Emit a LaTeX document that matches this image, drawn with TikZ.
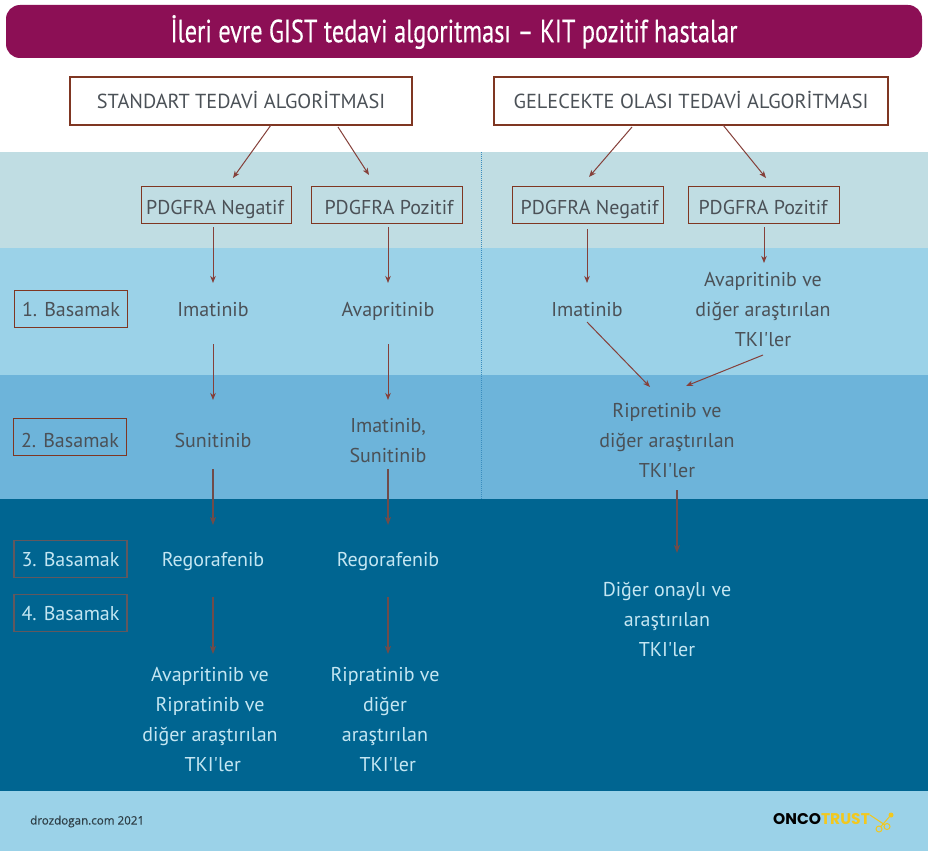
\documentclass[tikz,border=0pt]{standalone}
\usepackage{fontspec}
\setmainfont{PT Sans}
\newfontfamily\labfont{PT Sans}
\newfontfamily\titlefont{PT Sans}
\newfontfamily\footfont{Open Sans}
\newfontfamily\logofont{Poppins}
\usetikzlibrary{arrows.meta}
\definecolor{titlebg}{HTML}{8C0F55}
\definecolor{frame}{HTML}{7F3622}
\definecolor{framedark}{HTML}{62585E}
\definecolor{arrowc}{HTML}{85403A}
\definecolor{arrowd}{HTML}{704C4A}
\definecolor{band0}{HTML}{C0DDE3}
\definecolor{band1}{HTML}{9BD2E8}
\definecolor{band2}{HTML}{6DB4DA}
\definecolor{band3}{HTML}{006591}
\definecolor{txt}{HTML}{4B5157}
\definecolor{txtlight}{HTML}{C4E6F2}
\definecolor{foottxt}{HTML}{2F4048}
\definecolor{logoy}{HTML}{F2C81E}
\newcommand{\tkiler}{{\labfont TKI'ler}}
\tikzset{
 x=1pt,y=-1pt,
 lab/.style={font=\fontsize{20}{30}\selectfont,text=txt,align=center,inner sep=0pt},
 lablight/.style={lab,text=txtlight},
 oneline/.style={text height=19pt,text depth=5pt},
 head/.style={draw=frame,line width=2pt,fill=white,minimum height=48pt,inner sep=0pt,text height=20pt,text depth=5pt,font=\fontsize{20.3}{24}\selectfont,text=txt},
 pbox/.style={draw=frame,line width=1pt,minimum height=37pt,inner sep=0pt,text height=23pt,text depth=5pt,font=\fontsize{20}{24}\selectfont,text=txt},
 stepbox/.style={line width=1.2pt,minimum height=37pt,minimum width=113pt,inner sep=0pt,text height=20pt,text depth=5pt,font=\fontsize{20}{24}\selectfont},
 conn/.style={draw=arrowc,line width=1pt,-{Stealth[length=7pt,width=5.5pt,inset=2pt]}},
 conndark/.style={draw=arrowd,line width=1.2pt,-{Stealth[length=8pt,width=6pt,inset=2pt]}},
}
\begin{document}
\begin{tikzpicture}
\useasboundingbox (0,0) rectangle (928,851);
% bands
\fill[white] (0,0) rectangle (928,152);
\fill[band0] (0,152) rectangle (928,248);
\fill[band1] (0,248) rectangle (928,375);
\fill[band2] (0,375) rectangle (928,499);
\fill[band3] (0,499) rectangle (928,791);
\fill[band1] (0,791) rectangle (928,851);
\draw[draw={rgb,255:red,58;green,141;blue,190},line width=1pt,densely dotted] (481,152) -- (481,499);
% title
\fill[titlebg,rounded corners=14pt] (6,5) rectangle (922,58);
\node[text=white,inner sep=0pt,font=\titlefont\fontsize{32}{36}\selectfont,xscale=.76] (title) at (454,32) {\addfontfeature{FakeBold=0.4}İleri evre GIST tedavi algoritması – KIT pozitif hastalar};
% headers
\node[head,minimum width=342pt] (hL) at (241,100.5) {STANDART TEDAVİ ALGORİTMASI};
\node[head,minimum width=394pt] (hR) at (691,100.5) {GELECEKTE OLASI TEDAVİ ALGORİTMASI};
% PDGFRA boxes
\node[pbox,minimum width=150pt] (n1) at (216.5,205) {PDGFRA Negatif\kern3pt};
\node[pbox,minimum width=151pt] (p1) at (387,205) {\kern4pt PDGFRA Pozitif};
\node[pbox,minimum width=151pt] (n2) at (587.5,205) {\kern4pt PDGFRA Negatif};
\node[pbox,minimum width=151pt] (p2) at (764,205) {PDGFRA Pozitif\kern2pt};
% step boxes
\node[stepbox,draw=frame,text=txt] (s1) at (71,309) {1. Basamak};
\node[stepbox,draw=frame,text=txt,text height=25pt] (s2) at (70,437) {2. Basamak};
\node[stepbox,draw=framedark,text=txtlight] (s3) at (70.5,559) {3. Basamak};
\node[stepbox,draw=framedark,text=txtlight] (s4) at (70.5,613) {4. Basamak};
% drugs
\node[lab,oneline] (a1) at (213,309) {Imatinib};
\node[lab,oneline] (b1) at (388,309) {Avapritinib};
\node[lab,oneline] (a2) at (213,440) {Sunitinib};
\node[lab] (b2) at (388,440.5) {Imatinib,\\Sunitinib};
\node[lablight,oneline] (a3) at (213,559) {Regorafenib};
\node[lablight,oneline] (b3) at (388,559) {Regorafenib};
\node[lablight] (a4) at (210,719.5) {Avapritinib ve\\Ripratinib ve\\diğer araştırılan\\\ \tkiler};
\node[lablight] (b4) at (385,719.5) {Ripratinib ve\\diğer\\araştırılan\\\ \tkiler};
\node[lab,oneline] (c1) at (587,309) {Imatinib};
\node[lab] (d1) at (763,309.5) {Avapritinib ve\\diğer araştırılan\\\tkiler};
\node[lab] (e) at (667,440.5) {Ripretinib ve\\diğer araştırılan\\\tkiler};
\node[lablight] (f) at (667,619.5) {Diğer onaylı ve\\araştırılan\\\tkiler};
% free connector ends
\coordinate (t1) at (271,125); \coordinate (u1) at (233,178);
\coordinate (t2) at (338,127); \coordinate (u2) at (369,175);
\coordinate (t3) at (632,127); \coordinate (u3) at (589,177);
\coordinate (t4) at (723,125); \coordinate (u4) at (766,178);
\coordinate (ga) at (213,227); \coordinate (gb) at (213,283);
\coordinate (gc) at (388,227); \coordinate (gd) at (388,283);
\coordinate (ge) at (587,229); \coordinate (gf) at (587,283);
\coordinate (gg) at (764,227); \coordinate (gh) at (764,263);
\coordinate (ha) at (213,344); \coordinate (hb) at (213,400);
\coordinate (hc) at (388,344); \coordinate (hd) at (388,400);
\coordinate (ia) at (587,322); \coordinate (ib) at (650,387);
\coordinate (ic) at (763,355); \coordinate (id) at (686,386);
\coordinate (ja) at (213,469); \coordinate (jb) at (213,525);
\coordinate (jc) at (388,469); \coordinate (jd) at (388,525);
\coordinate (je) at (677,490); \coordinate (jf) at (677,553);
\coordinate (ka) at (213,597); \coordinate (kb) at (213,654);
\coordinate (kc) at (388,597); \coordinate (kd) at (388,654);
\foreach \a/\b in {t1/u1,t2/u2,t3/u3,t4/u4,ga/gb,gc/gd,ge/gf,gg/gh,ha/hb,hc/hd,ia/ib,ic/id}
  \draw[conn] (\a) -- (\b);
\foreach \a/\b in {ja/jb,jc/jd,je/jf,ka/kb,kc/kd}
  \draw[conndark] (\a) -- (\b);
% footer
\node[inner sep=0pt,anchor=west,font=\footfont\fontsize{11.6}{14}\selectfont,text=foottxt] (foot) at (30,821.5) {\addfontfeature{FakeBold=0.4}drozdogan.com 2021};
\node[inner sep=0pt,anchor=west,font=\logofont\fontsize{15.5}{16}\selectfont\bfseries] (logo) at (773,819) {\textcolor{black}{ONCO}\textcolor{logoy}{TRUST}};
% scissors
\draw[logoy,line width=1pt] (879,829) circle (3pt) (887,826.5) circle (3pt) (870,815) -- (885,825) (890,816) -- (880.5,827);
\fill[logoy] (891,815) circle (2.5pt);
\end{tikzpicture}
\end{document}
